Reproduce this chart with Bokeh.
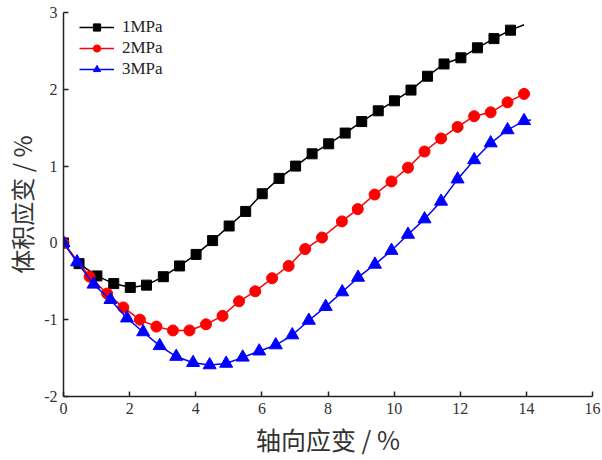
from bokeh.plotting import figure
from bokeh.models import Range1d, Legend, LegendItem, FixedTicker
from bokeh.embed import file_html
from bokeh.resources import INLINE

# 1 MPa
x1 = [0.0, 0.47, 1.01, 1.52, 2.02, 2.51, 3.02, 3.51, 4.01, 4.51, 5.01, 5.51, 6.01, 6.52,
      7.02, 7.52, 8.02, 8.52, 9.02, 9.52, 10.01, 10.51, 11.01, 11.51, 12.02, 12.52, 13.02, 13.52]
y1 = [0.0, -0.27, -0.43, -0.53, -0.58, -0.55, -0.44, -0.30, -0.15, 0.03, 0.22, 0.41, 0.64, 0.84,
      1.00, 1.16, 1.29, 1.43, 1.58, 1.72, 1.85, 1.99, 2.17, 2.33, 2.41, 2.54, 2.66, 2.77]
x1_end, y1_end = 13.93, 2.84

# 2 MPa
x2 = [0.0, 0.79, 1.32, 1.81, 2.31, 2.81, 3.31, 3.81, 4.31, 4.81, 5.31, 5.80, 6.31, 6.81,
      7.31, 7.82, 8.42, 8.90, 9.41, 9.92, 10.42, 10.92, 11.42, 11.92, 12.42, 12.92, 13.43, 13.93]
y2 = [0.0, -0.44, -0.66, -0.84, -1.00, -1.09, -1.14, -1.14, -1.06, -0.95, -0.76, -0.63, -0.46, -0.30,
      -0.08, 0.07, 0.28, 0.44, 0.63, 0.80, 0.98, 1.19, 1.36, 1.51, 1.65, 1.70, 1.83, 1.94]

# 3 MPa
x3 = [0.0, 0.41, 0.91, 1.42, 1.92, 2.41, 2.91, 3.41, 3.92, 4.42, 4.92, 5.42, 5.92, 6.42,
      6.92, 7.42, 7.93, 8.43, 8.91, 9.42, 9.92, 10.42, 10.92, 11.42, 11.92, 12.42, 12.92, 13.43, 13.93]
y3 = [0.0, -0.25, -0.54, -0.74, -0.98, -1.16, -1.34, -1.48, -1.56, -1.59, -1.57, -1.49, -1.41, -1.33,
      -1.20, -1.01, -0.83, -0.64, -0.45, -0.28, -0.10, 0.11, 0.31, 0.54, 0.83, 1.08, 1.30, 1.47, 1.59]
x3_end, y3_end = 14.14, 1.60

labels = ["1MPa", "2MPa", "3MPa"]
x_ticks = [0, 2, 4, 6, 8, 10, 12, 14, 16]
y_ticks = [-2, -1, 0, 1, 2, 3]
y_tick_text = {-2: "-2", -1: "-1", 0: "0", 1: "1", 2: "2", 3: "3"}

p = figure(width=602, height=460, output_backend="svg", toolbar_location=None,
           x_range=Range1d(0, 16), y_range=Range1d(-2, 3),
           min_border_left=63, min_border_right=10, min_border_top=12, min_border_bottom=64)
p.outline_line_color = None
p.xgrid.visible = False
p.ygrid.visible = False

l1 = p.line(x1 + [x1_end], y1 + [y1_end], line_color="black", line_width=1.5)
m1 = p.scatter(x1, y1, marker="square", size=10, fill_color="black", line_color="black")
l2 = p.line(x2, y2, line_color="#ff0000", line_width=1.5)
m2 = p.scatter(x2, y2, marker="circle", size=11, fill_color="#ff0000", line_color="#ff0000")
l3 = p.line(x3 + [x3_end], y3 + [y3_end], line_color="#0000ff", line_width=1.5)
m3 = p.scatter(x3, y3, marker="triangle", size=13, fill_color="#0000ff", line_color="#0000ff")

legend = Legend(items=[LegendItem(label=labels[0], renderers=[l1, m1]),
                       LegendItem(label=labels[1], renderers=[l2, m2]),
                       LegendItem(label=labels[2], renderers=[l3, m3])],
                location=(14, 315), border_line_alpha=0, background_fill_alpha=0,
                glyph_width=35, glyph_height=18, spacing=1, padding=2, label_standoff=8,
                label_text_font="Liberation Serif", label_text_font_size="17px",
                label_text_color="#222222", margin=0)
p.add_layout(legend, "center")

for ax in (p.xaxis[0], p.yaxis[0]):
    ax.axis_line_color = "#222222"
    ax.axis_line_width = 1.5
    ax.major_tick_line_color = "#222222"
    ax.major_tick_line_width = 1.5
    ax.major_tick_in = 5
    ax.major_tick_out = 0
    ax.minor_tick_line_color = None
    ax.major_label_text_font = "Liberation Serif"
    ax.major_label_text_font_size = "16px"
    ax.major_label_text_color = "#333333"
    ax.axis_label_text_font = "Noto Sans CJK SC"
    ax.axis_label_text_font_style = "normal"
    ax.axis_label_text_color = "#333333"

p.xaxis[0].ticker = FixedTicker(ticks=x_ticks)
p.yaxis[0].ticker = FixedTicker(ticks=y_ticks)
p.yaxis[0].major_label_overrides = y_tick_text
p.xaxis[0].axis_label = "轴向应变 / %"
p.yaxis[0].axis_label = "体积应变 / %"
p.xaxis[0].axis_label_text_font_size = "25px"
p.yaxis[0].axis_label_text_font_size = "24px"
p.xaxis[0].major_label_standoff = 6
p.yaxis[0].major_label_standoff = 6
p.xaxis[0].axis_label_standoff = 4
p.yaxis[0].axis_label_standoff = 2

open("out.html", "w").write(file_html(p, INLINE))
